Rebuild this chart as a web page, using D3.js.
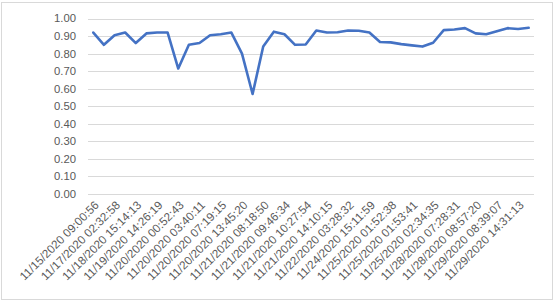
<!DOCTYPE html>
<html>
<head>
<meta charset="utf-8">
<script src="https://cdn.jsdelivr.net/npm/d3@7"></script>
<style>
  body { margin: 0; background: #fff; }
  svg { display: block; }
</style>
</head>
<body>
<div id="chart"></div>
<script>
//~~~~~~~~~~~~~~~~~~~~~~~~~~~~~~~~~~~~
// Data
//~~~~~~~~~~~~~~~~~~~~~~~~~~~~~~~~~~~~
// only every other category carries a visible label
const tickLabels = [
    "11/15/2020 09:00:56", "11/17/2020 02:32:58", "11/18/2020 15:14:13",
    "11/19/2020 14:26:19", "11/20/2020 00:52:43", "11/20/2020 03:40:11",
    "11/20/2020 07:19:15", "11/20/2020 13:45:20", "11/21/2020 08:18:50",
    "11/21/2020 09:46:34", "11/21/2020 10:27:54", "11/21/2020 14:10:15",
    "11/22/2020 03:28:32", "11/24/2020 15:11:59", "11/25/2020 01:52:38",
    "11/25/2020 01:53:41", "11/25/2020 02:34:35", "11/28/2020 07:28:31",
    "11/28/2020 08:57:20", "11/29/2020 08:39:07", "11/29/2020 14:31:13"
];

const values = [
    0.92, 0.85, 0.905, 0.92, 0.86, 0.915, 0.92, 0.92, 0.715, 0.85,
    0.86, 0.905, 0.91, 0.92, 0.80, 0.57, 0.84, 0.925, 0.91, 0.85,
    0.852, 0.932, 0.92, 0.922, 0.932, 0.93, 0.92, 0.866, 0.864, 0.854,
    0.847, 0.84, 0.862, 0.934, 0.937, 0.945, 0.915, 0.91, 0.928, 0.945,
    0.94, 0.947
];

const yTicks = [0, 0.1, 0.2, 0.3, 0.4, 0.5, 0.6, 0.7, 0.8, 0.9, 1.0];

//~~~~~~~~~~~~~~~~~~~~~~~~~~~~~~~~~~~~
// Chart
//~~~~~~~~~~~~~~~~~~~~~~~~~~~~~~~~~~~~
function createLineChart() {
    const width = 556;
    const height = 302;
    const margin = {top: 18.5, right: 22, bottom: 108, left: 88};
    const font = "'Liberation Sans', Arial, sans-serif";

    const svg = d3.select("#chart")
        .append("svg")
        .attr("width", width)
        .attr("height", height);

    // chart border
    svg.append("rect")
        .attr("x", 1.5)
        .attr("y", 2.5)
        .attr("width", 551)
        .attr("height", 297)
        .attr("fill", "#fff")
        .attr("stroke", "#d9d9d9");

    const categories = d3.range(values.length);

    const x = d3.scaleBand()
        .domain(categories)
        .range([margin.left, width - margin.right]);

    const y = d3.scaleLinear()
        .domain([0, 1])
        .range([height - margin.bottom, margin.top]);

    // gridlines
    svg.append("g")
        .selectAll("line")
        .data(yTicks)
        .join("line")
        .attr("x1", margin.left)
        .attr("x2", width - margin.right)
        .attr("y1", d => Math.round(y(d)) + 0.5)
        .attr("y2", d => Math.round(y(d)) + 0.5)
        .attr("stroke", "#d9d9d9")
        .attr("stroke-width", 1);

    // y labels
    svg.append("g")
        .selectAll("text")
        .data(yTicks)
        .join("text")
        .attr("x", margin.left - 12)
        .attr("y", d => y(d))
        .attr("dy", "0.35em")
        .attr("text-anchor", "end")
        .attr("fill", "#595959")
        .style("font", `11.3px ${font}`)
        .text(d => d3.format(".2f")(d));

    // x labels, rotated
    svg.append("g")
        .selectAll("text")
        .data(tickLabels)
        .join("text")
        .attr("transform", (d, i) => {
            const cx = x(i * 2) + x.bandwidth() / 2;
            return `translate(${cx + 3.5},${height - margin.bottom + 9}) rotate(-45)`;
        })
        .attr("dy", "0.35em")
        .attr("text-anchor", "end")
        .attr("fill", "#595959")
        .style("font", `11.7px ${font}`)
        .text(d => d);

    const line = d3.line()
        .x((d, i) => x(i) + x.bandwidth() / 2)
        .y(d => y(d));

    svg.append("path")
        .datum(values)
        .attr("fill", "none")
        .attr("stroke", "#4472c4")
        .attr("stroke-width", 2.6)
        .attr("stroke-linejoin", "round")
        .attr("stroke-linecap", "round")
        .attr("d", line);
}

createLineChart();
</script>
</body>
</html>
